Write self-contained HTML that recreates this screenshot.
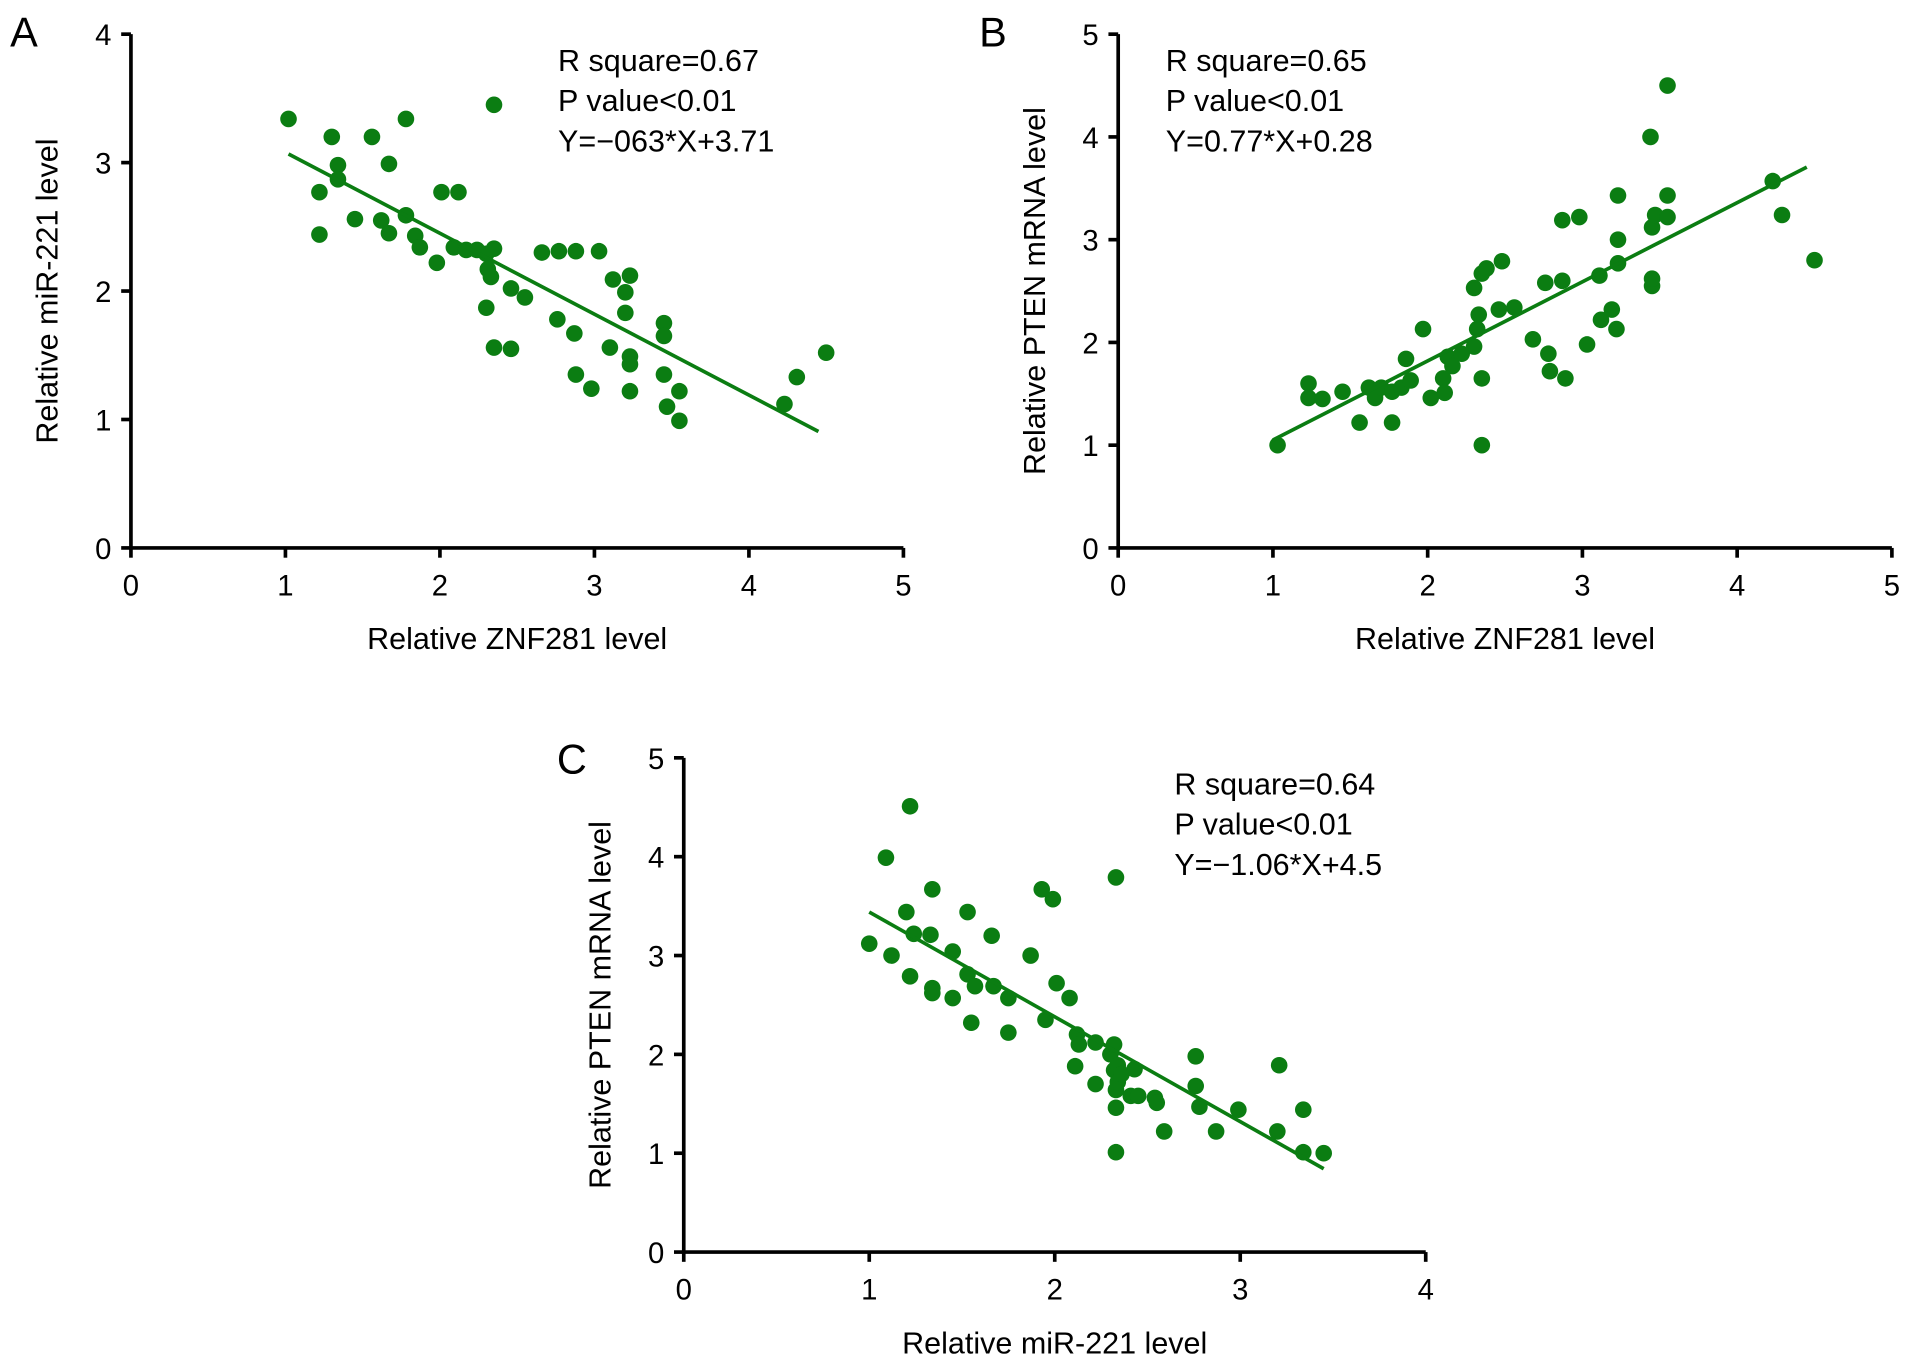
<!DOCTYPE html>
<html><head><meta charset="utf-8"><style>
html,body{margin:0;padding:0;background:#fff;}
svg{display:block;font-family:"Liberation Sans",sans-serif;}
</style></head><body>
<svg id="fig" width="1913" height="1368" viewBox="0 0 1567 1121"></svg>
<script>
// Panel A data
const aX=[1.02,1.22,1.22,1.30,1.34,1.34,1.45,1.56,1.62,1.67,1.67,1.78,1.78,1.84,1.87,1.98,2.01,2.12,2.09,2.17,2.24,2.30,2.30,2.31,2.33,2.35,2.35,2.35,2.46,2.46,2.55,2.66,2.77,2.76,2.88,2.87,2.88,2.98,3.03,3.10,3.12,3.20,3.20,3.23,3.23,3.23,3.23,3.45,3.45,3.45,3.47,3.55,3.55,4.23,4.31,4.50];
const aY=[3.34,2.77,2.44,3.20,2.98,2.87,2.56,3.20,2.55,2.99,2.45,3.34,2.59,2.43,2.34,2.22,2.77,2.77,2.34,2.32,2.32,2.29,1.87,2.17,2.11,2.33,3.45,1.56,1.55,2.02,1.95,2.30,2.31,1.78,2.31,1.67,1.35,1.24,2.31,1.56,2.09,1.83,1.99,2.12,1.49,1.43,1.22,1.35,1.75,1.65,1.10,1.22,0.99,1.12,1.33,1.52];
const aFit=[-0.63,3.71], aFitX=[1.02,4.45];
// Panel B data
const bX=[1.03,1.23,1.23,1.32,1.45,1.56,1.62,1.66,1.70,1.77,1.77,1.83,1.86,1.89,1.97,2.02,2.10,2.11,2.13,2.16,2.22,2.30,2.32,2.30,2.33,2.35,2.35,2.35,2.38,2.46,2.48,2.56,2.68,2.76,2.78,2.79,2.87,2.87,2.89,2.98,3.03,3.11,3.12,3.19,3.22,3.23,3.23,3.23,3.44,3.45,3.45,3.45,3.47,3.55,3.55,3.55,4.23,4.29,4.50];
const bY=[1.00,1.60,1.46,1.45,1.52,1.22,1.56,1.46,1.56,1.22,1.52,1.56,1.84,1.63,2.13,1.46,1.65,1.51,1.86,1.77,1.89,1.96,2.13,2.53,2.27,2.67,1.00,1.65,2.72,2.32,2.79,2.34,2.03,2.58,1.89,1.72,2.60,3.19,1.65,3.22,1.98,2.65,2.22,2.32,2.13,3.00,2.77,3.43,4.00,3.12,2.55,2.62,3.24,3.22,3.43,4.50,3.57,3.24,2.80];
const bFit=[0.77,0.28], bFitX=[1.0,4.45];
// Panel C data
const cX=[1.00,1.09,1.12,1.22,1.20,1.22,1.24,1.33,1.34,1.34,1.34,1.45,1.45,1.53,1.53,1.55,1.57,1.66,1.67,1.75,1.75,1.87,1.93,1.95,1.99,2.01,2.08,2.11,2.12,2.13,2.22,2.22,2.30,2.32,2.32,2.33,2.33,2.33,2.33,2.34,2.34,2.36,2.41,2.43,2.45,2.54,2.55,2.59,2.76,2.76,2.78,2.87,2.99,3.20,3.21,3.34,3.34,3.45];
const cY=[3.12,3.99,3.00,4.51,3.44,2.79,3.22,3.21,3.67,2.67,2.62,2.57,3.04,3.44,2.81,2.32,2.69,3.20,2.69,2.57,2.22,3.00,3.67,2.35,3.57,2.72,2.57,1.88,2.20,2.10,1.70,2.12,2.00,2.10,1.84,1.01,1.64,1.46,3.79,1.89,1.72,1.80,1.58,1.85,1.58,1.56,1.51,1.22,1.98,1.68,1.47,1.22,1.44,1.22,1.89,1.44,1.01,1.00];
const cFit=[-1.06,4.5], cFitX=[1.0,3.45];
const xTicksA=["0","1","2","3","4","5"], yTicksA=["0","1","2","3","4"];
const xTicksB=["0","1","2","3","4","5"], yTicksB=["0","1","2","3","4","5"];
const xTicksC=["0","1","2","3","4"], yTicksC=["0","1","2","3","4","5"];

const NS="http://www.w3.org/2000/svg", svg=document.getElementById('fig');
function mk(t,a,p){const e=document.createElementNS(NS,t);for(const k in a)e.setAttribute(k,a[k]);(p||svg).appendChild(e);return e;}
const G="#0b7d12";
function panel(o){
  const g=mk('g',{});
  
  
  const sx=v=>o.x0+v*(o.x1-o.x0)/o.xmax, sy=v=>o.y0-v*(o.y0-o.y1)/o.ymax;
  const lab=mk('text',{x:o.lx,y:o.ly,'font-size':34},g);lab.textContent=o.id;
  
  const ax=mk('path',{d:`M${o.x0} ${o.y1}V${o.y0}H${o.x1}`,stroke:'#000','stroke-width':3,fill:'none'},g);
  
  o.xt.forEach((t,i)=>{const x=sx(i);mk('line',{x1:x,x2:x,y1:o.y0,y2:o.y0+8,stroke:'#000','stroke-width':3},g);
    const tx=mk('text',{x:x,y:o.y0+39,'font-size':24,'text-anchor':'middle'},g);tx.textContent=t;
    });
  o.yt.forEach((t,i)=>{const y=sy(i);mk('line',{x1:o.x0-8,x2:o.x0,y1:y,y2:y,stroke:'#000','stroke-width':3},g);
    const tx=mk('text',{x:o.x0-16,y:y+9,'font-size':24,'text-anchor':'end'},g);tx.textContent=t;
    });
  const xt=mk('text',{x:(o.x0+o.x1)/2,y:o.y0+83,'font-size':25,'text-anchor':'middle'},g);xt.textContent=o.xl;
  
  const yc=(o.y0+o.y1)/2, yx=o.x0-60;
  const yt=mk('text',{x:yx,y:yc,'font-size':25,'text-anchor':'middle',transform:`rotate(-90 ${yx} ${yc})`},g);yt.textContent=o.yl;
  
  o.xs.forEach((v,i)=>{const c=mk('circle',{cx:sx(v),cy:sy(o.ys[i]),r:6.8,fill:G},g);
    
    });
  const f=o.fit,fx=o.fitx;
  const ln=mk('line',{x1:sx(fx[0]),y1:sy(f[0]*fx[0]+f[1]),x2:sx(fx[1]),y2:sy(f[0]*fx[1]+f[1]),stroke:G,'stroke-width':3},g);
  
  o.stats.forEach((s,i)=>{const t=mk('text',{x:o.tx,y:o.ty+i*33,'font-size':25},g);t.textContent=s;
    });
}
panel({id:'A',lx:8,ly:38,x0:107,x1:740,y0:449,y1:28,xmax:5,ymax:4,xt:xTicksA,yt:yTicksA,xs:aX,ys:aY,fit:aFit,fitx:aFitX,
  xl:'Relative ZNF281 level',yl:'Relative miR-221 level',tx:457,ty:58,stats:['R square=0.67','P value<0.01','Y=−063*X+3.71']});
panel({id:'B',lx:802,ly:38,x0:916,x1:1550,y0:449,y1:28,xmax:5,ymax:5,xt:xTicksB,yt:yTicksB,xs:bX,ys:bY,fit:bFit,fitx:bFitX,
  xl:'Relative ZNF281 level',yl:'Relative PTEN mRNA level',tx:955,ty:58,stats:['R square=0.65','P value<0.01','Y=0.77*X+0.28']});
panel({id:'C',lx:456,ly:634,x0:560,x1:1168,y0:1026,y1:621,xmax:4,ymax:5,xt:xTicksC,yt:yTicksC,xs:cX,ys:cY,fit:cFit,fitx:cFitX,
  xl:'Relative miR-221 level',yl:'Relative PTEN mRNA level',tx:962,ty:651,stats:['R square=0.64','P value<0.01','Y=−1.06*X+4.5']});
</script>
</body></html>
